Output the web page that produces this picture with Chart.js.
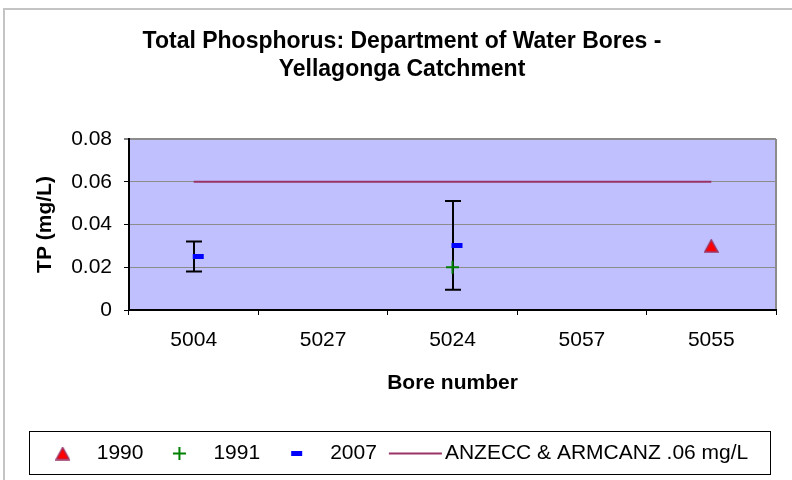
<!DOCTYPE html>
<html>
<head>
<meta charset="utf-8">
<script src="https://cdn.jsdelivr.net/npm/chart.js@4.4.1/dist/chart.umd.min.js"></script>
<style>
  html, body { margin: 0; padding: 0; background: #fff; }
  canvas { display: block; }
</style>
</head>
<body>
<canvas id="tpChart" width="792" height="480"></canvas>
<script>
const bores = ["5004", "5027", "5024", "5057", "5055"];
const tp1990 = [null, null, null, null, 0.03];
const tp1991 = [null, null, 0.02, null, null];
const tp2007 = [0.025, null, 0.03, null, null];
const guideline = [0.06, 0.06, 0.06, 0.06, 0.06];
const errLow = [0.018, null, 0.0095, null, null];
const errHigh = [0.032, null, 0.051, null, null];
const yTicks = [0, 0.02, 0.04, 0.06, 0.08];

const FONT = '"Liberation Sans", Arial, sans-serif';
Chart.defaults.font.family = FONT;
Chart.defaults.color = "#000";

// Excel style markers: box centred on the value, dash sits right of centre
function makeTriangle() {
  const c = document.createElement("canvas");
  c.width = 15; c.height = 14;
  const g = c.getContext("2d");
  g.beginPath();
  g.moveTo(7.5, 1); g.lineTo(14, 13); g.lineTo(1, 13); g.closePath();
  g.fillStyle = "#ff0000"; g.fill();
  g.strokeStyle = "#993366"; g.lineWidth = 1.5; g.stroke();
  return c;
}
function makeDash() {
  const c = document.createElement("canvas");
  c.width = 22; c.height = 5;
  const g = c.getContext("2d");
  g.fillStyle = "#0000ff";
  g.fillRect(10, 0, 11, 5);
  return c;
}
const triImg = makeTriangle();
const dashImg = makeDash();

const frameAndPlot = {
  id: "frameAndPlot",
  beforeDraw(chart) {
    const { ctx, chartArea: a, width, height } = chart;
    ctx.save();
    ctx.strokeStyle = "#c4c4c4";
    ctx.lineWidth = 2;
    ctx.beginPath();
    ctx.moveTo(4, height); ctx.lineTo(4, 9); ctx.lineTo(width, 9);
    ctx.stroke();
    ctx.fillStyle = "#c0c0ff";
    ctx.fillRect(a.left, a.top, a.right - a.left, a.bottom - a.top);
    ctx.strokeStyle = "#8c8c8c";
    ctx.beginPath();
    ctx.moveTo(a.right, a.top); ctx.lineTo(a.right, a.bottom);
    ctx.stroke();
    ctx.restore();
  }
};

const errorBars = {
  id: "errorBars",
  beforeDatasetsDraw(chart) {
    const { ctx, scales: { x, y } } = chart;
    ctx.save();
    ctx.strokeStyle = "#000";
    ctx.lineWidth = 2;
    errLow.forEach((lo, i) => {
      if (lo === null) return;
      const px = Math.round(x.getPixelForValue(i));
      const y1 = y.getPixelForValue(lo);
      const y2 = y.getPixelForValue(errHigh[i]);
      ctx.beginPath();
      ctx.moveTo(px, y1); ctx.lineTo(px, y2);
      ctx.moveTo(px - 8, y1); ctx.lineTo(px + 8, y1);
      ctx.moveTo(px - 8, y2); ctx.lineTo(px + 8, y2);
      ctx.stroke();
    });
    ctx.restore();
  }
};

// boxed legend like the Excel one
const boxLegend = {
  id: "boxLegend",
  afterDraw(chart) {
    const { ctx } = chart;
    const box = { left: 29, top: 431, right: 770, bottom: 474 };
    ctx.save();
    ctx.strokeStyle = "#000";
    ctx.lineWidth = 1;
    ctx.strokeRect(box.left + 0.5, box.top + 0.5, box.right - box.left, box.bottom - box.top);
    ctx.font = "21px " + FONT;
    ctx.textBaseline = "middle";
    const cy = (box.top + box.bottom) / 2 + 1;

    const items = chart.data.datasets.map(ds => {
      const isLine = ds.showLine !== false;
      return { ds, isLine, tw: ctx.measureText(ds.label).width };
    });
    let total = 0;
    items.forEach((it, i) => {
      total += it.isLine ? 44 + it.tw : 46 + it.tw;
      if (i < items.length - 1) total += items[i + 1].isLine ? 12 : 24;
    });
    let cur = (box.left + box.right) / 2 - total / 2 - 6;
    items.forEach((it, i) => {
      const ds = it.ds;
      let tx;
      if (it.isLine) {
        ctx.strokeStyle = ds.borderColor;
        ctx.lineWidth = ds.borderWidth;
        ctx.beginPath();
        ctx.moveTo(cur, cy); ctx.lineTo(cur + 53, cy);
        ctx.stroke();
        tx = cur + 56;
        cur = tx + it.tw;
      } else {
        const mx = cur + 12;
        const style = ds.pointStyle;
        ctx.fillStyle = ds.pointBackgroundColor || "#000";
        ctx.strokeStyle = ds.pointBorderColor || "#000";
        ctx.lineWidth = ds.pointBorderWidth || 1;
        Chart.helpers.drawPoint(ctx, {
          pointStyle: style,
          radius: ds.pointRadius,
          borderWidth: ds.pointBorderWidth || 1,
          rotation: 0
        }, style === dashImg ? mx - 4 : mx, cy);
        tx = cur + 46;
        cur = tx + it.tw;
      }
      ctx.fillStyle = "#000";
      ctx.textAlign = "left";
      ctx.fillText(ds.label, tx, cy);
      if (i < items.length - 1) cur += items[i + 1].isLine ? 12 : 24;
    });
    ctx.restore();
  }
};

new Chart(document.getElementById("tpChart"), {
  type: "line",
  data: {
    labels: bores,
    datasets: [
      {
        label: "1990", data: tp1990, showLine: false,
        pointStyle: triImg, pointRadius: 7,
        pointBackgroundColor: "#ff0000", pointBorderColor: "#993366"
      },
      {
        label: "1991", data: tp1991, showLine: false,
        pointStyle: "cross", pointRadius: 6.5, pointBorderWidth: 2,
        pointBackgroundColor: "#008000", pointBorderColor: "#008000"
      },
      {
        label: "2007", data: tp2007, showLine: false,
        pointStyle: dashImg, pointRadius: 5,
        pointBackgroundColor: "#0000ff", pointBorderColor: "#0000ff"
      },
      {
        label: "ANZECC & ARMCANZ .06 mg/L", data: guideline,
        borderColor: "#993366", borderWidth: 2, pointRadius: 0, fill: false
      }
    ]
  },
  options: {
    responsive: false,
    animation: false,
    events: [],
    layout: { padding: { top: 10, right: 16, bottom: 80, left: 28 } },
    plugins: {
      legend: { display: false },
      tooltip: { enabled: false },
      title: {
        display: true,
        text: ["Total Phosphorus: Department of Water Bores -", "Yellagonga Catchment"],
        font: { size: 23, weight: "bold", lineHeight: 28 / 23 },
        color: "#000",
        padding: { top: 18, bottom: 55 }
      }
    },
    scales: {
      x: {
        offset: true,
        afterFit: s => { s.height = 90; },
        grid: { offset: true, drawOnChartArea: false, tickLength: 5, tickColor: "#000", tickWidth: 1 },
        border: { color: "#000", width: 2 },
        ticks: { font: { size: 21 }, padding: 13, maxRotation: 0, autoSkip: false },
        title: {
          display: true, text: "Bore number",
          font: { size: 21, weight: "bold" }, padding: { top: 0, bottom: 4 }
        }
      },
      y: {
        min: 0, max: 0.08,
        afterFit: s => { s.width = 101; },
        afterBuildTicks: s => { s.ticks = yTicks.map(v => ({ value: v })); },
        grid: {
          color: "#8c8c8c",
          lineWidth: c => (c.tick && c.tick.value === 0.08 ? 2 : 1),
          tickLength: 5, tickColor: "#000", tickWidth: 1
        },
        border: { color: "#000", width: 2 },
        ticks: {
          font: { size: 21 }, padding: 12,
          callback: v => (v === 0 ? "0" : v.toFixed(2))
        },
        title: {
          display: true, text: "TP (mg/L)",
          font: { size: 21, weight: "bold" }, padding: { top: 5, bottom: 0 }
        }
      }
    }
  },
  plugins: [frameAndPlot, errorBars, boxLegend]
});
</script>
</body>
</html>
